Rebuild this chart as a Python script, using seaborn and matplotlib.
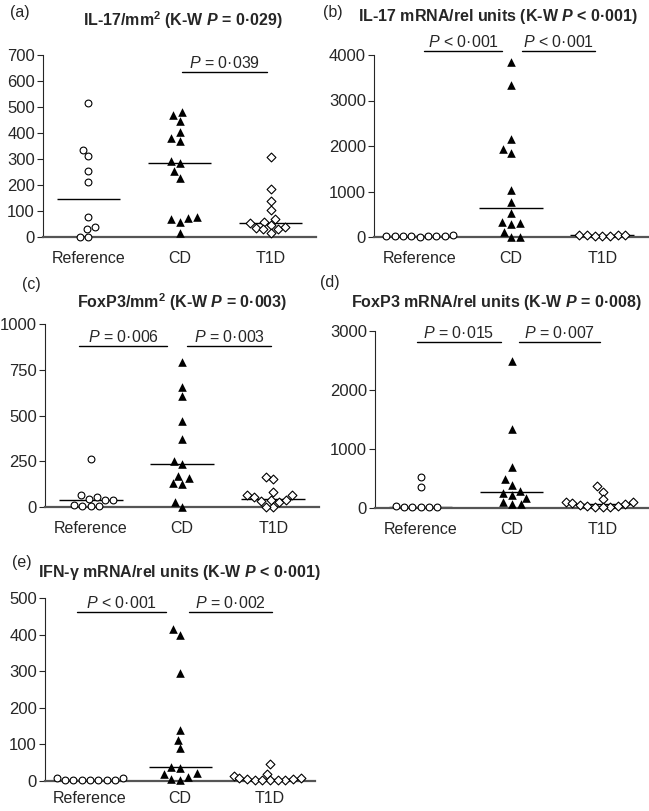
import matplotlib
matplotlib.use('Agg')
from matplotlib import pyplot as plt
import numpy as np
import pandas as pd
import seaborn as sns

groups = ['Reference', 'CD', 'T1D']

# (a) IL-17/mm2
il17_ref = [515, 333, 310, 253, 213, 78, 30, 38, 0, 0]
il17_cd = [469, 479, 446, 403, 369, 382, 294, 283, 255, 228, 77, 69, 59, 72, 14]
il17_t1d = [306, 183, 138, 104, 69, 59, 53, 46, 36, 29, 29, 40, 17]

# (b) IL-17 mRNA
il17m_ref = [15, 25, 20, 30, 10, 35, 20, 25, 15]
il17m_cd = [3850, 3350, 2150, 1930, 1850, 1030, 760, 520, 300, 280, 330, 120, 10, 10]
il17m_t1d = [20, 40, 30, 50, 25, 45, 35]

# (c) FoxP3/mm2
foxp3_ref = [262, 65, 45, 40, 38, 53, 5, 8, 3, 12]
foxp3_cd = [790, 655, 605, 470, 370, 253, 235, 168, 157, 130, 125, 27, 0]
foxp3_t1d = [151, 164, 53, 65, 65, 84, 29, 38, 38, 33, 0, 0]

# (d) FoxP3 mRNA
foxp3m_ref = [520, 360, 10, 15, 25, 35, 20, 10]
foxp3m_cd = [2500, 1340, 690, 486, 390, 280, 255, 220, 175, 107, 62, 62]
foxp3m_t1d = [370, 275, 150, 110, 95, 90, 62, 55, 40, 30, 25, 20, 15]

# (e) IFN-g mRNA
ifng_ref = [2, 8, 3, 2, 3, 2, 4, 8, 2]
ifng_cd = [415, 400, 295, 139, 112, 89, 37, 35, 21, 19, 12, 5, 3]
ifng_t1d = [46, 20, 14, 8, 5, 3, 2, 4, 6, 3, 2, 7]

titles = [
    r'IL-17/mm$^{\mathbf{2}}$ (K-W $\mathbfit{P}$ = 0·029)',
    r'IL-17 mRNA/rel units (K-W $\mathbfit{P}$ < 0·001)',
    r'FoxP3/mm$^{\mathbf{2}}$ (K-W $\mathbfit{P}$ = 0·003)',
    r'FoxP3 mRNA/rel units (K-W $\mathbfit{P}$ = 0·008)',
    r'IFN-γ mRNA/rel units (K-W $\mathbfit{P}$ < 0·001)',
]
letters = ['(a)', '(b)', '(c)', '(d)', '(e)']

# significance bars: (x start, x end, height, label)
bars_a = [(1.03, 1.96, 635, r'$P$ = 0·039')]
bars_b = [(0.05, 0.9, 4080, r'$P$ < 0·001'), (1.12, 1.92, 4080, r'$P$ < 0·001')]
bars_c = [(-0.13, 0.84, 880, r'$P$ = 0·006'), (1.06, 1.97, 880, r'$P$ = 0·003')]
bars_d = [(-0.04, 0.88, 2814, r'$P$ = 0·015'), (1.08, 1.97, 2814, r'$P$ = 0·007')]
bars_e = [(-0.14, 0.84, 462, r'$P$ < 0·001'), (1.1, 2.02, 462, r'$P$ = 0·002')]

sns.set_style('ticks')
plt.rcParams['font.family'] = ['Liberation Sans', 'DejaVu Sans']
plt.rcParams['mathtext.fontset'] = 'custom'
plt.rcParams['mathtext.rm'] = 'Liberation Sans'
plt.rcParams['mathtext.it'] = 'Liberation Sans:italic'
plt.rcParams['mathtext.bf'] = 'Liberation Sans:bold'
plt.rcParams['mathtext.bfit'] = 'Liberation Sans:italic:bold'

W, H = 649, 811
fig = plt.figure(figsize=(W / 100, H / 100), dpi=100)


def px_axes(left, right, y0, ytop):
    # pixel box -> figure fraction
    return fig.add_axes([left / W, 1 - y0 / H, (right - left) / W, (y0 - ytop) / H])


def panel(ax, ref, cd, t1d, top, step, bars, xpad=10):
    df = pd.DataFrame({
        'group': ['Reference'] * len(ref) + ['CD'] * len(cd) + ['T1D'] * len(t1d),
        'value': ref + cd + t1d,
    })
    # median lines only
    sns.boxplot(data=df, x='group', y='value', order=groups, width=0.7,
                showbox=False, showcaps=False, showfliers=False,
                whiskerprops={'visible': False},
                medianprops={'color': 'black', 'linewidth': 1}, ax=ax)
    styles = {'Reference': ('o', 'white', 4.9, 0.8),
              'CD': ('^', 'black', 6.2, 0),
              'T1D': ('D', 'white', 4.5, 0.8)}
    for g in groups:
        m, fc, sz, lw = styles[g]
        sns.swarmplot(data=df[df['group'] == g], x='group', y='value', order=groups,
                      marker=m, color=fc, edgecolor='black', linewidth=lw, size=sz,
                      clip_on=False, zorder=3, ax=ax)
    ax.set_xlim(-0.5, 2.5)
    ax.set_ylim(0, top)
    ax.set_yticks(np.arange(0, top + 1, step))
    ax.set_xlabel('')
    ax.set_ylabel('')
    sns.despine(ax=ax)
    ax.spines['bottom'].set_color('#555555')
    ax.spines['bottom'].set_linewidth(1.6)
    ax.spines['left'].set_linewidth(0.8)
    ax.spines['left'].set_bounds(0, top)
    ax.tick_params(axis='x', length=0, pad=xpad, labelsize=11.5)
    ax.tick_params(axis='y', length=4.3, width=0.8, pad=1.5, labelsize=12)
    for x0, x1, y, lab in bars:
        ax.plot([x0, x1], [y, y], color='black', lw=1, clip_on=False)
        ax.annotate(lab, xy=((x0 + x1) / 2, y), xytext=(0, 1), textcoords='offset points',
                    ha='center', va='bottom', fontsize=11.5, annotation_clip=False)


ax_a = px_axes(43, 316, 237, 55)
panel(ax_a, il17_ref, il17_cd, il17_t1d, 700, 100, bars_a)
ax_b = px_axes(374, 648, 237, 55)
panel(ax_b, il17m_ref, il17m_cd, il17m_t1d, 4000, 1000, bars_b)
ax_c = px_axes(45, 319, 507, 324)
panel(ax_c, foxp3_ref, foxp3_cd, foxp3_t1d, 1000, 250, bars_c)
ax_d = px_axes(375, 648, 508, 331)
panel(ax_d, foxp3m_ref, foxp3m_cd, foxp3m_t1d, 3000, 1000, bars_d)
ax_e = px_axes(45, 315, 781, 598)
panel(ax_e, ifng_ref, ifng_cd, ifng_t1d, 500, 100, bars_e, xpad=7.5)

# titles and panel letters (pixel positions)
title_pos = [(183, 20), (498, 16), (182, 302), (496, 302), (179, 573)]
letter_pos = [(20, 12), (333, 12), (31, 285), (330, 283), (22, 562)]
for t, (x, y) in zip(titles, title_pos):
    fig.text(x / W, 1 - y / H, t, ha='center', va='center', fontsize=11.5, fontweight='bold')
for l, (x, y) in zip(letters, letter_pos):
    fig.text(x / W, 1 - y / H, l, ha='center', va='center', fontsize=11.5)

fig.savefig('out.png', dpi=100)
